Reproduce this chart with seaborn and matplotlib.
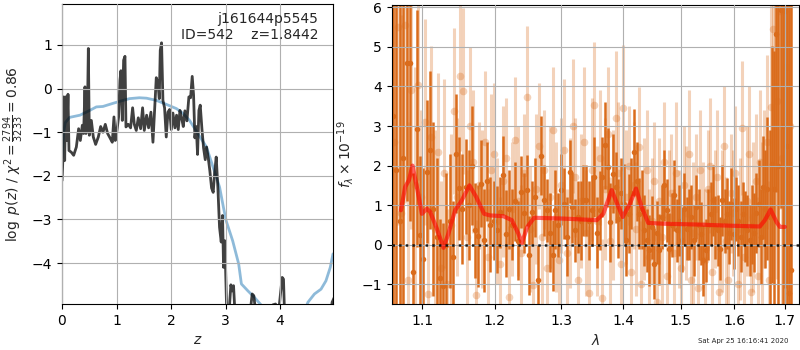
import numpy as np
import matplotlib
matplotlib.use("Agg")
import matplotlib.pyplot as plt
import matplotlib.ticker as mticker
import seaborn as sns

# ---- redshift fit: log p(z) and scaled chi2 ----
z_pz = [0.000, 0.018, 0.031, 0.049, 0.067, 0.086, 0.110, 0.128, 0.171, 0.214,
        0.263, 0.305, 0.336, 0.373, 0.397, 0.421, 0.440, 0.464, 0.483, 0.501,
        0.538, 0.574, 0.617, 0.666, 0.709, 0.751, 0.794, 0.837, 0.880, 0.922,
        0.953, 0.977, 1.008, 1.038, 1.063, 1.081, 1.106, 1.130, 1.155, 1.173,
        1.216, 1.258, 1.295, 1.326, 1.362, 1.399, 1.442, 1.478, 1.509, 1.552,
        1.588, 1.631, 1.668, 1.698, 1.729, 1.759, 1.784, 1.802, 1.826, 1.851,
        1.881, 1.912, 1.943, 1.973, 2.004, 2.034, 2.071, 2.101, 2.132, 2.163,
        2.193, 2.224, 2.254, 2.291, 2.327, 2.358, 2.388, 2.413, 2.437, 2.462,
        2.486, 2.511, 2.535, 2.566, 2.596, 2.627, 2.651, 2.682, 2.712, 2.743,
        2.773, 2.798, 2.828, 2.859, 2.889, 2.920, 2.944, 2.963, 2.987, 3.018,
        3.060, 3.097, 3.121, 3.146, 3.170, 3.256, 3.409, 3.488, 3.518, 3.549,
        3.684, 3.867, 3.916, 3.958, 4.038, 4.062, 4.087, 4.356, 4.722, 4.936,
        4.954, 4.990]
logp = [-2.11, -1.57, -0.19, -1.65, -0.19, -1.19, -0.13, -1.42, -1.46, -1.53,
        -1.34, -0.92, -1.19, -0.84, -1.03, 0.04, -1.03, -0.80, 0.92, -1.07,
        -0.73, -1.11, -1.28, -1.11, -0.87, -1.00, -0.82, -1.03, -1.13, -1.23,
        -0.65, -1.19, -0.96, -0.65, 0.19, 0.41, -0.73, 0.65, 0.74, -0.88,
        -0.82, -0.90, -0.44, -0.82, -0.96, -0.67, -0.92, -0.44, -0.96, -0.61,
        -0.90, -0.54, -1.23, -0.50, 0.25, 0.13, -0.23, 0.88, 1.05, -0.27,
        -0.44, -1.11, -0.54, -0.48, -0.94, -0.56, -0.90, -0.61, -0.94, -0.50,
        -0.67, -0.87, -0.51, -0.74, -0.19, -0.21, 0.28, -0.15, -1.13, -0.87,
        -1.51, -0.50, -0.38, -0.92, -1.36, -1.63, -1.34, -1.59, -1.89, -2.28,
        -2.38, -1.95, -1.57, -2.28, -3.18, -3.52, -2.91, -4.10, -3.49, -5.00,
        -5.20, -4.50, -4.64, -4.52, -5.10, -5.50, -5.60, -4.71, -4.75, -5.10,
        -5.50, -4.96, -4.94, -5.30, -4.33, -4.37, -5.40, -5.60, -5.60, -5.10,
        -4.90, -4.80]

z_chi2 = [0.00, 0.03, 0.06, 0.14, 0.33, 0.51, 0.63, 0.75, 0.93, 1.12,
          1.24, 1.42, 1.55, 1.73, 1.91, 2.10, 2.22, 2.34, 2.49, 2.65,
          2.77, 2.89, 2.96, 3.01, 3.13, 3.24, 3.29, 3.41, 3.53, 3.65,
          3.81, 4.17, 4.45, 4.51, 4.63, 4.75, 4.84, 4.92, 4.97]
chi2_scaled = [-1.60, -1.00, -0.78, -0.66, -0.61, -0.50, -0.42, -0.41, -0.34, -0.27,
               -0.23, -0.21, -0.22, -0.27, -0.36, -0.46, -0.57, -0.73, -1.03, -1.34,
               -1.80, -2.26, -2.72, -3.03, -3.49, -4.02, -4.48, -4.64, -4.79, -4.96,
               -5.17, -5.25, -5.10, -4.90, -4.71, -4.60, -4.41, -4.10, -3.79]

# ---- G141 spectrum, units of 1e-19 ----
flux_binned = [3.25, 1.9, 0.6, 2.2, 4.6, 4.6, -0.7, 2.93, 0.25, -0.35,
               1.85, 2.4, 0.9, 0.2, -0.85, -1.05, 0.0, 0.6, -0.3, 2.3,
               1.43, 0.9, 1.47, 1.0, 2.0, 0.36, 0.22, 1.54, 0.11, 1.6,
               0.5, 0.6, 0.38, 0.82, 1.75, 0.28, 0.9, 0.5, 1.1, 0.1,
               1.33, 0.8, 1.37, -0.27, 0.82, 1.2, -0.9, 2.25, 1.12, 0.87,
               0.3, -0.27, 0.88, 0.5, 1.39, 1.04, 0.2, 1.85, 0.95, 0.36,
               0.7, 0.61, 1.12, 1.12, 0.6, 0.87, 1.71, 0.3, 0.87, 1.71,
               2.51, 1.96, 0.57, 1.79, 1.45, 0.66, 1.3, 1.03, 0.11, 0.78,
               1.3, 2.34, 1.6, 0.78, 0.9, 0.36, 0.11, -0.14, 0.44, -0.48,
               0.3, -0.13, 0.7, 1.5, 0.87, -0.1, 0.5, 1.25, 0.36, 0.61,
               0.11, 0.9, 0.4, 0.5, 0.7, 0.11, 0.95, 0.5, 0.28, -0.4,
               -0.14, 0.5, 0.78, 1.12, 0.44, 0.36, -0.1, 1.12, 0.6, 0.78,
               0.3, 1.03, 0.28, 0.9, 0.61, 0.2, 0.78, 0.45, 0.36, 0.11,
               0.5, 0.3, 0.8, 1.03, 0.2, 1.45, 0.9, 1.42, 0.7, 2.03,
               1.4, 5.33, 2.0, 5.93, 3.0, 5.9, 2.5, -1.23, -0.63]
err_binned = [7, 7, 6, 6, 3.5, 4, 2.5, 3, 2, 2.3,
              1.8, 2.0, 2.2, 2.0, 1.5, 1.6, 1.8, 1.7, 1.4, 1.5,
              1.3, 1.4, 1.2, 1.4, 1.5, 1.2, 1.3, 1.1, 1.3, 1.0,
              1.2, 1.0, 1.1, 0.9, 1.0, 1.1, 1.0, 0.9, 1.0, 1.0,
              0.9, 1.0, 0.9, 1.0, 0.8, 1.0, 0.9, 1.0, 0.9, 0.8,
              1.0, 0.9, 1.0, 0.8, 0.9, 0.9, 1.0, 0.8, 0.9, 0.8,
              0.9, 1.0, 0.9, 0.9, 1.0, 0.9, 1.0, 0.9, 1.0, 1.0,
              1.1, 1.0, 1.0, 1.0, 0.9, 1.0, 0.9, 1.0, 0.9, 1.0,
              0.9, 1.1, 1.0, 0.9, 1.0, 0.9, 0.8, 0.9, 0.8, 0.9,
              0.8, 0.9, 0.8, 0.9, 0.8, 0.9, 0.8, 0.9, 0.8, 0.9,
              0.8, 0.9, 0.8, 0.9, 0.8, 0.9, 0.8, 0.9, 0.8, 0.9,
              0.8, 0.9, 0.8, 0.9, 0.8, 0.9, 0.8, 0.9, 0.8, 0.9,
              0.8, 0.9, 0.9, 0.8, 0.9, 0.9, 0.8, 0.9, 0.9, 0.9,
              1.0, 1.0, 1.0, 1.1, 1.2, 1.3, 1.5, 1.8, 2.2, 3.0,
              3.5, 4.0, 5.0, 5.0, 6.0, 7.0, 8.0, 9.0, 9.0]

flux_single = [2.6, 5.5, 0.8, 5.55, -0.9, 3.9, 1.5,
               4.04, 1.2, 3.1, -1.24, 2.73, 0.4, 2.35, -0.6, 1.8, -1.0, 0.5, 3.39, 1.2,
               4.27, 3.88, 0.2, 3.0, 2.1, -1.28, 1.5, 0.9, 2.6, -0.3, 1.9,
               2.3, 0.6, -0.5, 1.6, 2.2, -1.32, 0.9, 2.65, 1.1, -0.2, 1.8, 3.73,
               0.4, -1.03, 1.4, 2.5, 0.2, 1.9, -0.6, 1.2, 2.9, 0.7, -0.4,
               1.5, 2.4, -0.2, 0.8, 3.0, 1.7, -0.9, 1.1, 2.6, 0.3, -1.22, 1.9,
               3.53, 0.6, 2.2, -1.36, 1.4, 2.8, 0.1, 1.0, 3.2, 1.8, -0.5,
               3.46, 1.2, 2.0, -0.7, 1.5, 0.4, 2.48, -1.0, 0.9, 1.9, -0.3, 0.6,
               1.6, -1.45, 1.1, 0.2, 2.1, -0.8, 0.7, 1.3, -0.2, 1.8, 0.4,
               -0.6, 1.5, 0.8, 2.3, -0.9, 0.3, 1.2, -1.1, 1.9, 0.5, -0.4, 1.4,
               2.0, -0.7, 0.9, 1.7, -1.2, 0.6, 2.5, 0.1, -0.9, 1.3, 0.8,
               1.8, -1.0, 0.4, 2.95, -0.3, 1.1, 2.3, -1.2, 0.7, 1.6, -0.8, 2.1, 0.5, 1.4,
               2.6, -0.9, 3.48, 5.45, 4.0, 3.64, 5.9, 2.2, 6.3, 4.5, 7.0, 3.0]
err_single = [6, 5, 5, 4.5, 4, 3.5, 3,
              2.4, 2.2, 2.6, 2.1, 2.3, 2.5, 2.0, 2.2, 2.4, 1.9, 2.3, 2.1, 2.0,
              1.9, 2.1, 1.7, 2.0, 1.8, 1.9, 1.6, 2.0, 1.8, 1.7, 1.9,
              1.8, 1.6, 1.7, 1.9, 1.5, 1.8, 1.7, 1.6, 1.9, 1.7, 1.5, 1.8,
              1.6, 1.7, 1.9, 1.6, 1.8, 1.5, 1.7, 1.8, 1.6, 1.9, 1.7,
              1.7, 1.8, 1.6, 1.9, 1.7, 1.5, 1.8, 1.7, 1.9, 1.6, 1.7, 1.8,
              1.6, 1.9, 1.7, 1.5, 1.8, 1.7, 1.6, 1.9, 1.7, 1.8, 1.6,
              1.6, 1.7, 1.5, 1.8, 1.6, 1.7, 1.5, 1.6, 1.8, 1.5, 1.7, 1.6,
              1.5, 1.7, 1.6, 1.8, 1.5, 1.6, 1.7, 1.5, 1.6, 1.8, 1.5,
              1.6, 1.5, 1.7, 1.6, 1.5, 1.8, 1.6, 1.7, 1.5, 1.6, 1.8, 1.5,
              1.7, 1.6, 1.5, 1.7, 1.6, 1.8, 1.5, 1.6, 1.7, 1.5, 1.6,
              1.7, 1.6, 1.8, 1.7, 1.6, 1.9, 1.7, 1.8, 1.9, 1.7, 2.0, 1.8, 2.1, 2.0,
              2.2, 2.5, 3.0, 3.5, 4.0, 4.5, 5.0, 5.5, 6.0, 6.5, 7.0, 8.0]

wave_model = [1.0723, 1.0778, 1.0826, 1.0873, 1.0938, 1.0996, 1.1062, 1.1106,
              1.1186, 1.1285, 1.1352, 1.1444, 1.1536, 1.1642, 1.1736, 1.1849,
              1.1934, 1.2126, 1.2249, 1.2346, 1.2397, 1.2480, 1.2581, 1.3031,
              1.3563, 1.3671, 1.3809, 1.3902, 1.3993, 1.4116, 1.4218, 1.4315,
              1.4429, 1.4691, 1.5292, 1.5914, 1.6497, 1.6596, 1.6710, 1.6831,
              1.6898, 1.7000]
flux_model = [0.87, 1.46, 1.63, 2.00, 1.38, 0.78, 0.91, 0.83,
              0.45, -0.08, 0.28, 0.87, 1.12, 1.50, 1.21, 0.78,
              0.74, 0.72, 0.62, 0.28, 0.04, 0.45, 0.68, 0.66,
              0.62, 0.78, 1.38, 1.03, 0.70, 1.04, 1.42, 0.95,
              0.55, 0.53, 0.51, 0.48, 0.46, 0.62, 0.89, 0.57,
              0.45, 0.45]

# wavelength sampling of the two spectrum versions (microns)
wave_binned = np.linspace(1.062, 1.7132, len(flux_binned))
wave_single = np.linspace(1.064, 1.711, len(flux_single))

GRISM_COLOR = "#da6c1c"

sns.set_style("ticks")
plt.rcParams["font.family"] = ["DejaVu Sans"]
plt.rcParams["axes.edgecolor"] = "black"
plt.rcParams["xtick.color"] = "black"
plt.rcParams["ytick.color"] = "black"

fig = plt.figure(figsize=(8, 3.5), dpi=100)
ax1 = fig.add_axes([62 / 800, 46 / 350, 271 / 800, 300 / 350])
ax2 = fig.add_axes([391.7 / 800, 46 / 350, 407.3 / 800, 299 / 350])

# ---- left panel ----
sns.lineplot(x=z_chi2, y=chi2_scaled, ax=ax1, sort=False, estimator=None,
             color="#1f77b4", alpha=0.5, lw=2)
sns.lineplot(x=z_pz, y=logp, ax=ax1, sort=False, estimator=None,
             color="k", alpha=0.75, lw=2)
ax1.set_xlim(0, 4.97)
ax1.set_ylim(-4.94, 1.94)
ax1.set_xticks([0, 1, 2, 3, 4])
ax1.set_yticks([-4, -3, -2, -1, 0, 1])
ax1.grid(True, color="#b0b0b0", lw=0.8)
ax1.set_axisbelow(False)
ax1.set_xlabel(r"$z$")
ax1.set_ylabel(r"$\log\ p(z)$ / $\chi^2=\frac{2794}{3233}=0.86$")
ax1.text(0.945, 0.975, "j161644p5545\nID=542    z=1.8442",
         transform=ax1.transAxes, ha="right", va="top", fontsize=10)

# ---- right panel ----
ax2.set_xscale("log")
ax2.errorbar(wave_single, flux_single, yerr=err_single, fmt="o",
             color=GRISM_COLOR, alpha=0.3, ms=5.5, lw=2.2, mec="none", zorder=1)
ax2.errorbar(wave_binned, flux_binned, yerr=err_binned, fmt="o",
             color=GRISM_COLOR, alpha=1.0, ms=4, lw=1.8, mec="none", zorder=2)
sns.lineplot(x=wave_model, y=flux_model, ax=ax2, sort=False, estimator=None,
             color="red", alpha=0.6, lw=3, zorder=5)
ax2.axhline(0, color="k", ls=":", lw=1.8, alpha=0.85, zorder=6)
ax2.set_xlim(1.0605, 1.729)
ax2.set_ylim(-1.5, 6.06)
ax2.xaxis.set_major_locator(mticker.FixedLocator([1.1, 1.2, 1.3, 1.4, 1.5, 1.6, 1.7]))
ax2.xaxis.set_major_formatter(mticker.FuncFormatter(lambda v, p: f"{v:.1f}"))
ax2.xaxis.set_minor_locator(mticker.NullLocator())
ax2.set_yticks([-1, 0, 1, 2, 3, 4, 5, 6])
ax2.grid(True, color="#b0b0b0", lw=0.8, zorder=4)
ax2.set_axisbelow(False)
ax2.set_xlabel(r"$\lambda$")
ax2.set_ylabel(r"$f_\lambda\times10^{-19}$")

for ax in (ax1, ax2):
    for s in ax.spines.values():
        s.set_visible(True)
        s.set_color("black")
    ax.tick_params(labelsize=10)

fig.text(0.985, 0.018, "Sat Apr 25 16:16:41 2020", ha="right", va="bottom", fontsize=5)

fig.savefig("out.png", dpi=100)
